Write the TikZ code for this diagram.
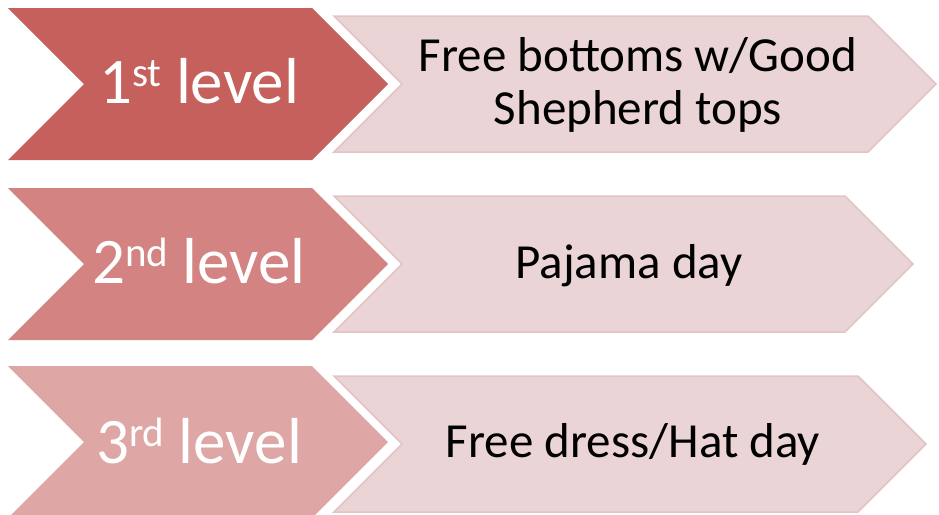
\documentclass[tikz,border=0pt]{standalone}
\usepackage{fontspec}
\setmainfont{Carlito}
\definecolor{dA}{HTML}{C5605C}
\definecolor{dB}{HTML}{D38482}
\definecolor{dC}{HTML}{DFA6A6}
\definecolor{lt}{HTML}{EAD4D5}
\definecolor{ltb}{HTML}{E3C4C5}
\newcommand{\supord}[1]{\raisebox{17pt}{\fontsize{41}{41}\selectfont #1}}
\tikzset{
  lightchev/.style={fill=lt, draw=ltb, line width=1.5pt, line join=miter},
  leveltext/.style={text=white, font=\fontsize{65}{65}\selectfont, inner sep=0pt, anchor=base},
  desctext/.style={text=black, font=\fontsize{49}{53}\selectfont, align=center, inner sep=0pt}
}
\begin{document}
\begin{tikzpicture}[x=1pt,y=-1pt]
\useasboundingbox (0,0) rectangle (939,514);
% light chevrons
\path[lightchev] (334,16) -- (868,16) -- (936,84) -- (868,152) -- (334,152) -- (402,84) -- cycle;
\path[lightchev] (334,196) -- (845,196) -- (913,264) -- (845,332) -- (334,332) -- (402,264) -- cycle;
\path[lightchev] (334,376) -- (858,376) -- (926,444) -- (858,512) -- (334,512) -- (402,444) -- cycle;
% dark chevrons
\fill[dA] (8,8) -- (312,8) -- (388,84) -- (312,160) -- (8,160) -- (84,84) -- cycle;
\fill[dB] (8,188) -- (312,188) -- (388,264) -- (312,340) -- (8,340) -- (84,264) -- cycle;
\fill[dC] (8,366) -- (312,366) -- (388,442) -- (312,518) -- (8,518) -- (84,442) -- cycle;
% texts
\node[leveltext] (l1) at (199,103) {1\supord{st} level};
\node[leveltext] (l2) at (199,283) {2\supord{nd} level};
\node[leveltext] (l3) at (199,463) {3\supord{rd} level};
\node[desctext] (d1) at (638,85) {Free bottoms w/Good\\Shepherd tops};
\node[desctext, anchor=base] (d2) at (629,278) {Pajama day};
\node[desctext, anchor=base] (d3) at (633,457) {Free dress/Hat day};
\end{tikzpicture}
\end{document}
